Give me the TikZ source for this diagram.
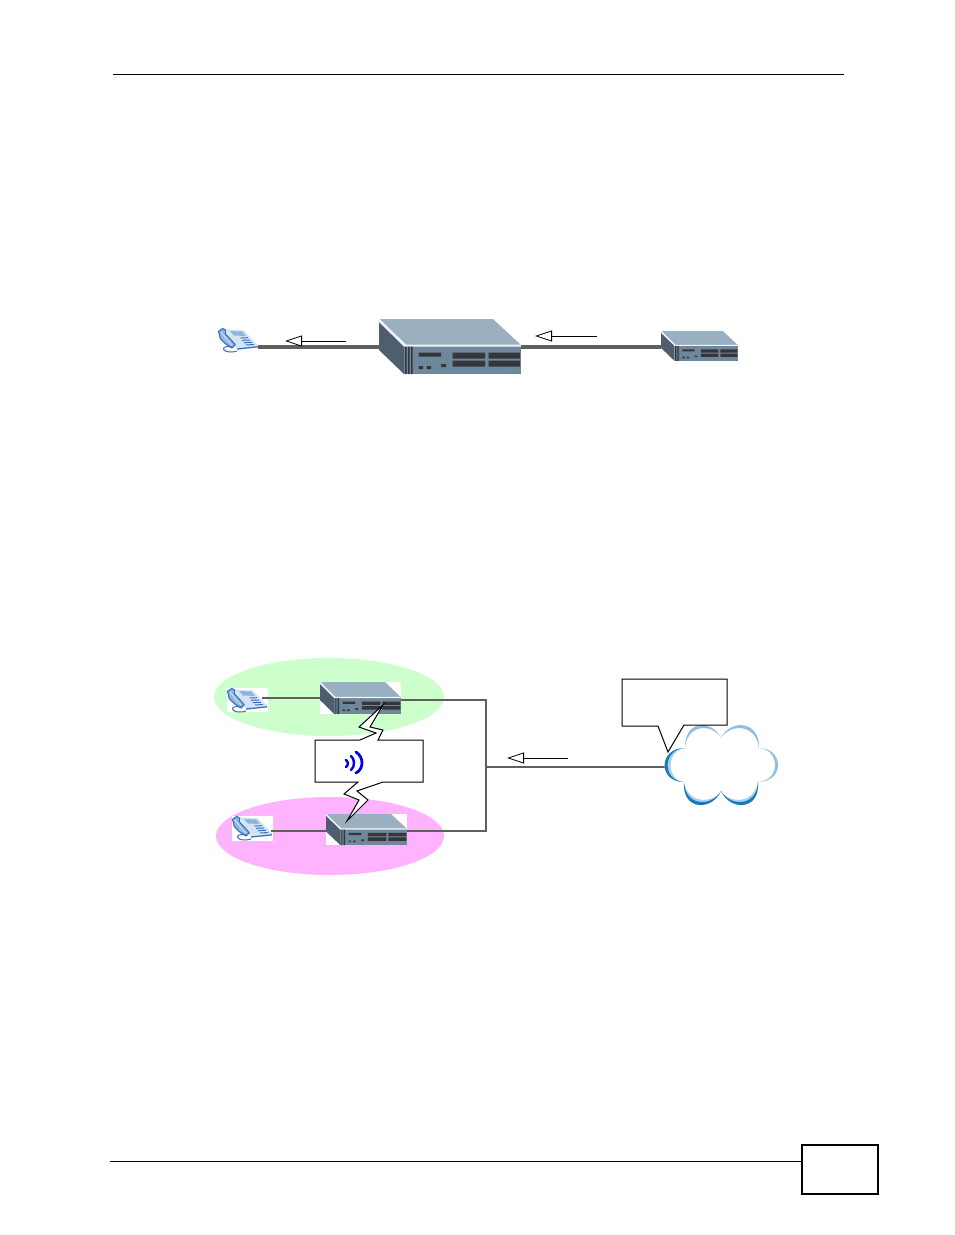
\documentclass[tikz,border=0pt]{standalone}
\usetikzlibrary{arrows.meta,shapes.geometric}
\definecolor{wire}{HTML}{5F5F5F}
\definecolor{devTop}{HTML}{9AB0C0}
\definecolor{devFront}{HTML}{6E879B}
\definecolor{devSide}{HTML}{4E5E6E}
\definecolor{devSlot}{HTML}{34363C}
\definecolor{phLight}{HTML}{D4E4F4}
\definecolor{phMid}{HTML}{8FB4E0}
\definecolor{phDark}{HTML}{3A70B8}
\definecolor{clLight}{HTML}{8FC0E0}
\definecolor{clPale}{HTML}{A8D0EA}
\definecolor{clDark}{HTML}{1A78B8}
\definecolor{zoneG}{HTML}{CCFFCC}
\definecolor{zoneP}{HTML}{FFB3FF}
\tikzset{
  x=1pt,y=-1pt,
  anchorbox/.style={inner sep=0pt,outer sep=0pt,draw=none},
  zone/.style={ellipse,inner sep=0pt,outer sep=0pt,draw=none},
  pagerule/.style={draw=black,line width=0.9pt},
  thickwire/.style={draw=wire,line width=3.2pt},
  midwire/.style={draw=wire,line width=2.5pt},
  thinwire/.style={draw=wire,line width=1.1pt},
  flow/.style={draw=black,line width=0.8pt,-{Triangle[open,length=17pt,width=11pt,fill=white]}},
  callout/.style={draw=black,line width=1pt,fill=white,line join=miter},
  wave/.style={draw=blue!90!black,line width=2.4pt,line cap=round},
}
% device drawn in a 142 x 55 local box
\newcommand{\devicepic}[4]{%
\begin{scope}[shift={(#1,#2)},xscale=#3,yscale=#4]
  \fill[devTop] (1,0) -- (114,0) -- (142,26) -- (27,26) -- cycle;
  \fill[devSide] (0,3) -- (25,26) -- (25,55) -- (0,31) -- cycle;
  \fill[devFront] (25,27) rectangle (142,55);
  \fill[white!85!devTop] (1,1) -- (27,25.5) -- (142,25.5) -- (142,27.5) -- (25,27.5) -- (0,3) -- cycle;
  \fill[devSlot] (26,27.5) rectangle (27.5,55) (29,27.5) rectangle (30.5,55) (32,27.5) rectangle (33.5,55);
  \fill[devSlot] (39.5,33.5) rectangle (62,37.5)
    (73.5,33.5) rectangle (106,39.5) (109.5,33.5) rectangle (141,39.5)
    (73.5,41.5) rectangle (106,47.5) (109.5,41.5) rectangle (141,47.5)
    (39.5,47) rectangle (44,50) (47.5,47) rectangle (52,50) (62,45) rectangle (67,48);
\end{scope}}
% phone drawn in a 40 x 25 local box
\newcommand{\phonepic}[2]{%
\begin{scope}[shift={(#1,#2)}]
  \fill[phLight] (7.3,1.3) -- (25.7,2.3) -- (40.5,18) -- (19,20.5) -- cycle;
  \draw[phDark,line width=1.3pt] (19,21) -- (40,18.8);
  \fill[phMid] (12,3) -- (24.5,3.5) -- (28,8) -- (16,7.5) -- cycle;
  \draw[phDark,line width=1pt] (22.5,10) -- (30,9.7) (24,12.3) -- (32,12) (26,14.6) -- (34,14.3) (28,16.9) -- (36,16.6);
  \filldraw[fill=phMid,draw=phDark,line width=1.1pt,line join=round]
    (0.5,3.3) -- (4.7,0.5) -- (7.5,2) -- (7.5,5.7) -- (17.3,16.7) -- (14,20) -- (7.3,15.7) -- (2.3,10.7) -- cycle;
  \draw[phLight,line width=0.9pt] (3,4) -- (10,13) -- (14,17);
  \draw[phDark,line width=1pt] (14,19) .. controls (8,17.5) and (4,19.5) .. (6,22) .. controls (8,24.5) and (15,24.5) .. (19,23);
\end{scope}}
\begin{document}
\begin{tikzpicture}
\useasboundingbox (0,0) rectangle (954,1235);
\fill[white] (0,0) rectangle (954,1235);

% page frame
\coordinate (hdrL) at (113,74);
\coordinate (hdrR) at (844,74);
\draw[pagerule] (hdrL) -- (hdrR);
\coordinate (ftrL) at (110,1161);
\node[anchorbox,draw=black,line width=1.6pt,minimum width=76pt,minimum height=49pt] (pagebox) at (840,1169.5) {};
\draw[pagerule] (ftrL) -- (ftrL -| pagebox.west);

% --- upper diagram ---
\node[anchorbox,minimum width=40pt,minimum height=25pt] (phoneA) at (238,340.5) {};
\node[anchorbox,minimum width=142pt,minimum height=55pt] (bigdev) at (450,346.5) {};
\node[anchorbox,minimum width=77pt,minimum height=30pt] (smalldev) at (699.5,346) {};
\coordinate (lineA) at (258,347);
\draw[thickwire] (lineA) -- (lineA -| bigdev.west);
\draw[thickwire] (bigdev.east |- lineA) -- (smalldev.west |- lineA);
\phonepic{218}{328}
\devicepic{379}{319}{1}{1}
\devicepic{661}{331}{0.542}{0.545}
\coordinate (f1s) at (346,341);
\coordinate (f1e) at (285,341);
\coordinate (f2s) at (597,336);
\coordinate (f2e) at (535,336);
\draw[flow] (f1s) -- (f1e);
\draw[flow] (f2s) -- (f2e);

% --- lower diagram ---
\node[zone,fill=zoneG,minimum width=230pt,minimum height=78pt] (zoneA) at (329,697) {};
\node[zone,fill=zoneP,minimum width=228pt,minimum height=78pt] (zoneB) at (330,836) {};

\node[anchorbox,fill=white,minimum width=41pt,minimum height=24pt] (phoneB) at (247.5,700) {};
\node[anchorbox,fill=white,minimum width=41pt,minimum height=25pt] (phoneC) at (252.5,828.5) {};
\node[anchorbox,fill=white,minimum width=81pt,minimum height=32pt] (devB) at (360.5,698) {};
\node[anchorbox,fill=white,minimum width=81pt,minimum height=31pt] (devC) at (366.5,829.5) {};
\phonepic{227}{688}
\phonepic{232}{816}
\devicepic{320}{682}{0.57}{0.582}
\devicepic{326}{814}{0.57}{0.564}

\coordinate (tapB) at (262,698);
\coordinate (tapC) at (271,831);
\coordinate (bus1) at (486,700);
\coordinate (bus2) at (486,831);
\coordinate (busT) at (486,767);
\node[anchorbox,minimum width=112pt,minimum height=77pt] (cloud) at (722,765) {};
\draw[thinwire] (tapB) -- (tapB -| devB.west);
\draw[midwire] (tapC) -- (tapC -| devC.west);
\draw[midwire,line join=miter] (bus1 -| devB.east) -- (bus1) -- (bus2) -- (bus2 -| devC.east);
\draw[thinwire] (busT) -- (busT -| cloud.west);

% cloud: white body, then one crescent per lobe
\fill[white] (685,748) .. controls (684,720) and (712,719) .. (721,738)
  .. controls (730,719) and (760,720) .. (759,748)
  .. controls (784,748) and (785,782) .. (758,782)
  .. controls (760,811) and (730,811) .. (721,791)
  .. controls (712,811) and (682,811) .. (684,782)
  .. controls (658,782) and (658,748) .. (685,748) -- cycle;
% top left
\fill[clLight] (685,748) .. controls (684,720) and (712,719) .. (721,738)
  .. controls (712,723) and (687,724) .. (685,748) -- cycle;
% top right
\fill[clLight] (721,738) .. controls (730,719) and (760,720) .. (759,748)
  .. controls (756,724) and (731,723) .. (721,738) -- cycle;
% right
\fill[clLight] (759,748) .. controls (784,748) and (785,782) .. (758,782)
  .. controls (781,781) and (780,749) .. (759,748) -- cycle;
% bottom right
\fill[clPale] (758,782) .. controls (760,811) and (730,811) .. (721,791)
  .. controls (730,804) and (754,804) .. (758,782) -- cycle;
\fill[clDark] (758,782) .. controls (760,811) and (730,811) .. (721,791)
  .. controls (730,807) and (757,807) .. (758,782) -- cycle;
% bottom left
\fill[clPale] (721,791) .. controls (712,811) and (682,811) .. (684,782)
  .. controls (688,804) and (712,804) .. (721,791) -- cycle;
\fill[clDark] (721,791) .. controls (712,811) and (682,811) .. (684,782)
  .. controls (685,807) and (712,807) .. (721,791) -- cycle;
% left
\fill[clPale] (684,782) .. controls (658,782) and (658,748) .. (685,748)
  .. controls (666,750) and (666,780) .. (684,782) -- cycle;
\fill[clDark] (684,782) .. controls (658,782) and (658,748) .. (685,748)
  .. controls (662,749) and (662,781) .. (684,782) -- cycle;

\coordinate (f3s) at (568,758);
\coordinate (f3e) at (507,758);
\draw[flow] (f3s) -- (f3e);

% callouts
\draw[callout] (622,679) -- (727,679) -- (727,725) -- (684,725) -- (668,752) -- (658,726) -- (622,726) -- cycle;
\draw[callout] (315,740) -- (360,740) -- (376,733) -- (359,727) -- (383,705) -- (370,727) -- (383,730) -- (378,740)
  -- (423,740) -- (423,782) -- (383,782) -- (357,791) -- (368,800) -- (347,821) -- (359,800) -- (344,794) -- (358,782)
  -- (315,782) -- cycle;

% wireless symbol
\draw[wave] (346,760) .. controls (348.5,762) and (348.5,765) .. (346,767);
\draw[wave] (351,756) .. controls (355,759) and (355,767) .. (351,770);
\draw[wave,line width=2.8pt] (356,752) .. controls (364,757) and (364,769) .. (356,773);
\end{tikzpicture}
\end{document}
